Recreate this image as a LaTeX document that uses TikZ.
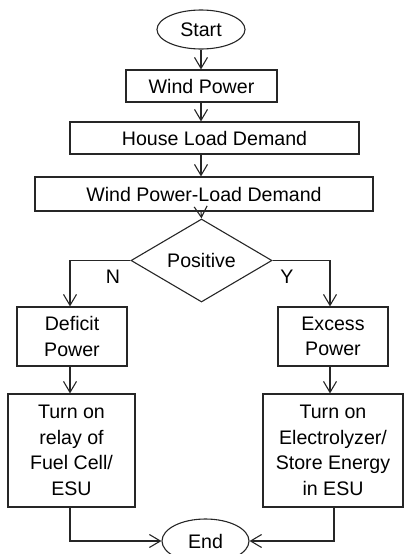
\documentclass[tikz,border=0pt]{standalone}
\usepackage{fontspec}
\setmainfont{Liberation Sans}
\usetikzlibrary{shapes.geometric,arrows.meta}
\begin{document}
\begin{tikzpicture}[x=1pt,y=-1pt,
  every node/.style={font=\fontsize{19.6}{25.5}\selectfont, text=black, inner sep=0pt},
  box/.style={draw=black!85, line width=1.1pt, rectangle, align=center},
  oval/.style={draw=black!85, line width=1.1pt, ellipse},
  dec/.style={draw=black!85, line width=1.1pt, diamond, minimum width=141pt, minimum height=65pt},
  lbl/.style={},
  conn/.style={draw=black!85, line width=1.1pt, -{Straight Barb[length=11pt,width=13pt,line width=1.1pt]}},
  seg/.style={draw=black!85, line width=1.1pt}]
\useasboundingbox (0,0) rectangle (404,554);
\node[oval, minimum width=88pt, minimum height=39pt] (start) at (201,29.5) {Start};
\node[box, minimum width=151pt, minimum height=32pt] (wp) at (201.5,86) {Wind Power};
\node[box, minimum width=289pt, minimum height=32pt] (hld) at (214.5,138) {House Load Demand};
\node[box, minimum width=338pt, minimum height=34pt] (wpld) at (204,194) {Wind Power-Load Demand};
\node[dec] (pos) at (201.5,260.5) {Positive};
\node[lbl] (n) at (113,277) {N};
\node[lbl] (y) at (287,277) {Y};
\node[box, minimum width=110pt, minimum height=59pt] (def) at (72,336.5) {Deficit\\Power};
\node[box, minimum width=110pt, minimum height=59pt] (exc) at (333,336.5) {Excess\\Power};
\node[box, minimum width=127pt, minimum height=113pt] (fc) at (71.5,450.5) {Turn on\\relay of\\Fuel Cell/\\ESU};
\node[box, minimum width=140pt, minimum height=113pt] (ez) at (333,450.5) {Turn on\\Electrolyzer/\\Store Energy\\in ESU};
\node[oval, minimum width=87pt, minimum height=44pt] (end) at (205.5,541) {End};
\coordinate (lc) at (70,260.5);
\coordinate (rc) at (330,260.5);
\coordinate (fcb) at (70,507);
\coordinate (ezb) at (334,507);
\draw[conn] (start.south) -- (start.south |- wp.north);
\draw[conn] (wp.south -| start.south) -- (start.south |- hld.north);
\draw[conn] (hld.south -| start.south) -- (start.south |- wpld.north);
\draw[conn] (wpld.south -| start.south) -- (pos.north);
\draw[conn] (pos.west) -- (lc) -- (lc |- def.north);
\draw[conn] (pos.east) -- (rc) -- (rc |- exc.north);
\draw[conn] (lc |- def.south) -- (lc |- fc.north);
\draw[conn] (rc |- exc.south) -- (rc |- ez.north);
\draw[conn] (fcb) -- (fcb |- end.west) -- (end.west);
\draw[conn] (ezb) -- (ezb |- end.east) -- (end.east);
\end{tikzpicture}
\end{document}
